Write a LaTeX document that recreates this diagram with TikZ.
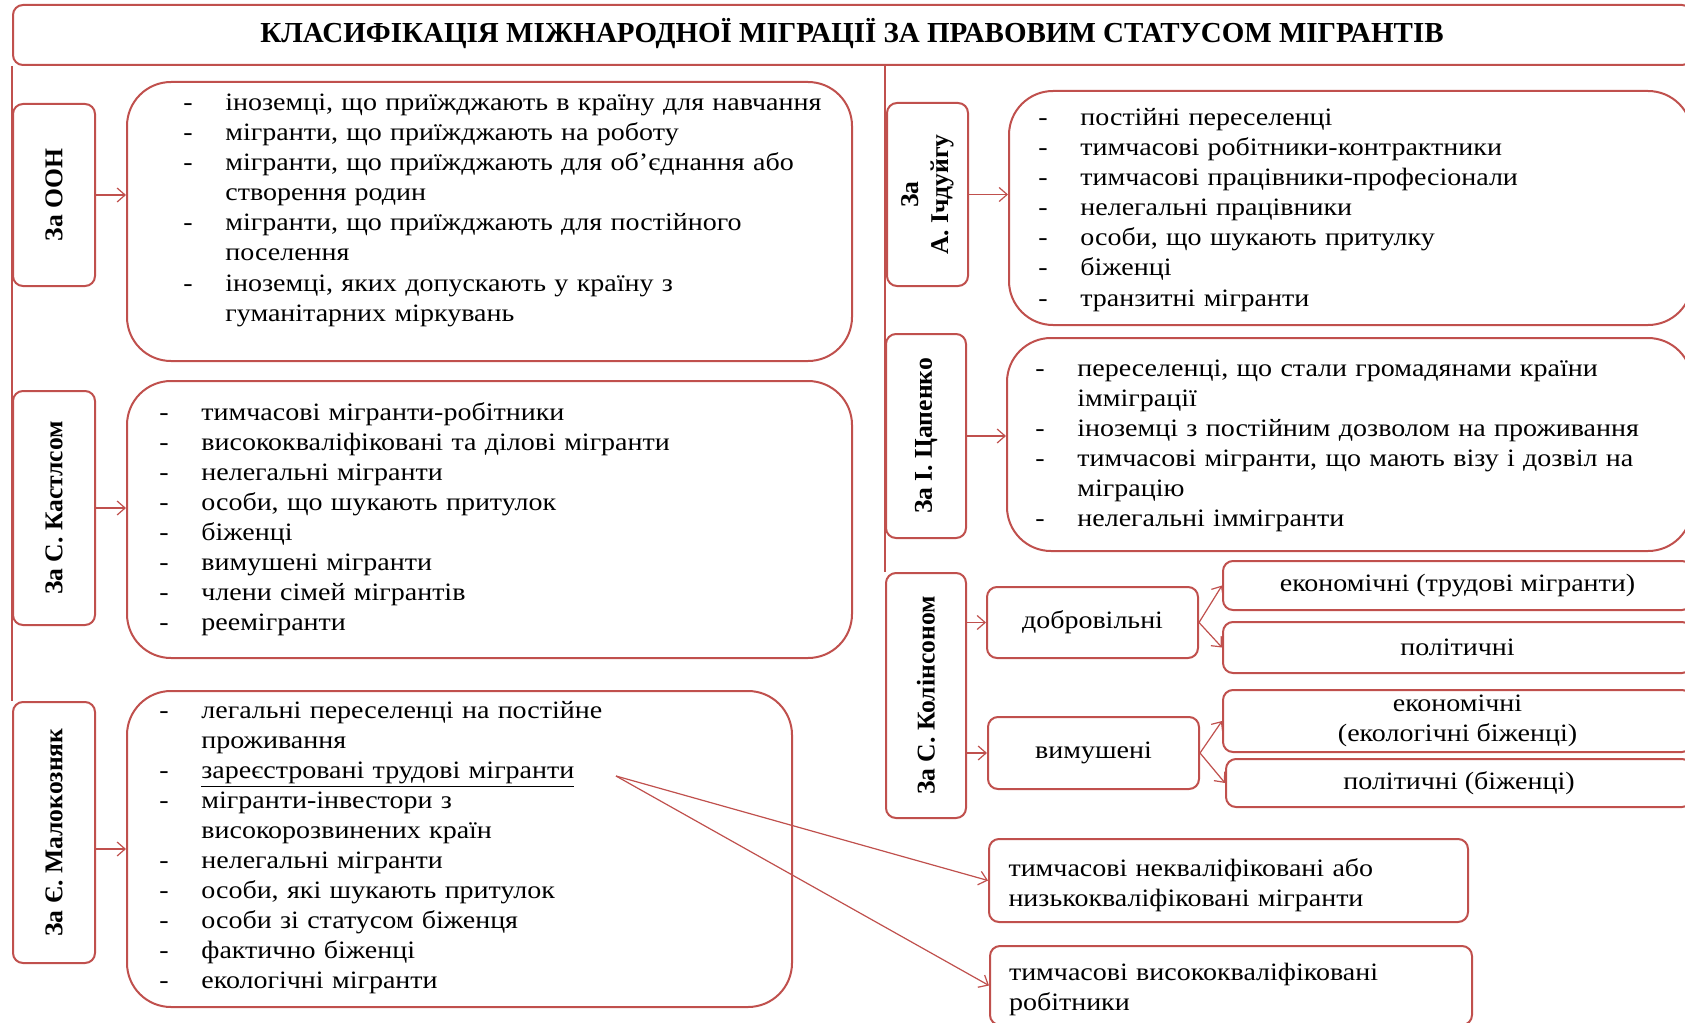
\documentclass[tikz,border=0pt]{standalone}
\usepackage{fontspec}
\setmainfont{Liberation Serif}[FakeStretch=1.12]
\newfontfamily\plainserif{Liberation Serif}
\usepackage{xcolor}
\usetikzlibrary{positioning,fit,arrows.meta}

\definecolor{boxred}{HTML}{C0504D}

\newcommand{\itm}{\makebox[21pt][l]{-}}
\newcommand{\cnt}{\hspace*{21pt}}

\begin{document}
\begin{tikzpicture}[
x=0.5pt, y=-0.5pt,
every node/.style={font=\fontsize{12.5}{15}\selectfont},
frame/.style={draw=boxred, line width=1pt, inner sep=0pt, rounded corners=5pt},
bigbox/.style={frame, rounded corners=22pt},
lbl/.style={rotate=90, inner sep=0pt, align=center, font=\plainserif\fontsize{12.8}{15}\selectfont\bfseries},
lst/.style={anchor=base west, inner sep=0pt, text width=330pt, align=left},
txt/.style={inner sep=0pt, align=center},
link/.style={draw=boxred, line width=0.6pt},
spine/.style={draw=boxred, line width=1pt},
>={Straight Barb[length=4pt,width=7pt]}
]

\fill[white] (0,0) rectangle (1685,1022);
\useasboundingbox (0,0) rectangle (1685,1022);

\node[frame, fit={(13,5) (1692,65)}] (title) {};
\node[txt, font=\plainserif\fontsize{14.5}{16}\selectfont\bfseries] (title-txt) at (852,34)
{КЛАСИФІКАЦІЯ МІЖНАРОДНОЇ МІГРАЦІЇ ЗА ПРАВОВИМ СТАТУСОМ МІГРАНТІВ};

% left column
\node[frame, fit={(13,104) (95,286)}] (oon) {};
\node[lbl] (oon-lbl) at (oon) {За ООН};

\node[bigbox, fit={(127,82) (852,361)}] (oon-box) {};
\node[lst] (oon-txt) at (183,111) {%
\itm іноземці, що приїжджають в країну для навчання\\
\itm мігранти, що приїжджають на роботу\\
\itm мігранти, що приїжджають для об'єднання або\\
\cnt створення родин\\
\itm мігранти, що приїжджають для постійного\\
\cnt поселення\\
\itm іноземці, яких допускають у країну з\\
\cnt гуманітарних міркувань};

\node[frame, fit={(13,391) (95,625)}] (kast) {};
\node[lbl] (kast-lbl) at (kast) {За С. Кастлсом};

\node[bigbox, fit={(127,381) (852,658)}] (kast-box) {};
\node[lst] (kast-txt) at (159,420) {%
\itm тимчасові мігранти-робітники\\
\itm висококваліфіковані та ділові мігранти\\
\itm нелегальні мігранти\\
\itm особи, що шукають притулок\\
\itm біженці\\
\itm вимушені мігранти\\
\itm члени сімей мігрантів\\
\itm реемігранти};

\node[frame, fit={(13,702) (95,963)}] (malok) {};
\node[lbl] (malok-lbl) at (malok) {За Є. Малокозняк};

\node[bigbox, fit={(127,691) (792,1007)}] (malok-box) {};
\node[lst] (malok-txt) at (159,718) {%
\itm легальні переселенці на постійне\\
\cnt проживання\\
\itm \underline{зареєстровані трудові мігранти}\\
\itm мігранти-інвестори з\\
\cnt високорозвинених країн\\
\itm нелегальні мігранти\\
\itm особи, які шукають притулок\\
\itm особи зі статусом біженця\\
\itm фактично біженці\\
\itm екологічні мігранти};

% right column
\node[frame, fit={(887,103) (968,286)}] (ichd) {};
\node[lbl] (ichd-lbl) at (ichd) {За\\А. Ічдуйгу};

\node[bigbox, fit={(1009,91) (1692,325)}] (ichd-box) {};
\node[lst] (ichd-txt) at (1038,126) {%
\itm постійні переселенці\\
\itm тимчасові робітники-контрактники\\
\itm тимчасові працівники-професіонали\\
\itm нелегальні працівники\\
\itm особи, що шукають притулку\\
\itm біженці\\
\itm транзитні мігранти};

\node[frame, fit={(886,334) (966,538)}] (tsap) {};
\node[lbl] (tsap-lbl) at (tsap) {За І. Цапенко};

\node[bigbox, fit={(1007,338) (1692,551)}] (tsap-box) {};
\node[lst] (tsap-txt) at (1035,376) {%
\itm переселенці, що стали громадянами країни\\
\cnt імміграції\\
\itm іноземці з постійним дозволом на проживання\\
\itm тимчасові мігранти, що мають візу і дозвіл на\\
\cnt міграцію\\
\itm нелегальні іммігранти};

\node[frame, fit={(886,573) (966,818)}] (kolin) {};
\node[lbl] (kolin-lbl) at (kolin) {За С. Колінсоном};

\node[frame, fit={(987,587) (1198,658)}] (dobr) {};
\node[txt] (dobr-txt) at (dobr) {добровільні};
\node[frame, fit={(988,717) (1199,789)}] (vymush) {};
\node[txt] (vymush-txt) at (vymush) {вимушені};

\node[frame, fit={(1223,561) (1692,610)}] (dobr-ek) {};
\node[txt] (dobr-ek-txt) at (dobr-ek) {економічні (трудові мігранти)};
\node[frame, fit={(1223,622) (1692,673)}] (dobr-pol) {};
\node[txt] (dobr-pol-txt) at (dobr-pol) {політичні};
\node[frame, fit={(1223,690) (1692,752)}] (vym-ek) {};
\node[txt] (vym-ek-txt) at (vym-ek) {економічні\\(екологічні біженці)};
\node[frame, fit={(1226,759) (1692,807)}] (vym-pol) {};
\node[txt] (vym-pol-txt) at (vym-pol) {політичні (біженці)};

\node[frame, fit={(989,839) (1468,922)}] (temp-low) {};
\node[txt, text width=220pt, align=left, yshift=-2.5pt] (temp-low-txt) at (temp-low)
{тимчасові некваліфіковані або\\низькокваліфіковані мігранти};
\node[frame, fit={(990,946) (1472,1025)}] (temp-high) {};
\node[txt, text width=222pt, align=left, yshift=-2pt] (temp-high-txt) at (temp-high)
{тимчасові висококваліфіковані\\робітники};

% spines
\draw[spine] (title.south west) -- (malok.north west);
\draw[spine] (title.south -| kolin.north west) -- (kolin.north west);

% arrows
\draw[link, ->] (oon.east) -- (oon.east -| oon-box.west);
\draw[link, ->] (kast.east) -- (kast.east -| kast-box.west);
\draw[link, ->] (malok-box.west -| malok.east) -- (malok-box.west);
\draw[link, ->] (ichd.east) -- (ichd.east -| ichd-box.west);
\draw[link, ->] (tsap.east) -- (tsap.east -| tsap-box.west);
\draw[link, ->] (dobr.west -| kolin.east) -- (dobr.west);
\draw[link, ->] (vymush.west -| kolin.east) -- (vymush.west);
\draw[link, ->] (dobr.east) -- (dobr-ek.west);
\draw[link, ->] (dobr.east) -- (dobr-pol.west);
\draw[link, ->] (vymush.east) -- (vym-ek.west);
\draw[link, ->] (vymush.east) -- (vym-pol.west);

\coordinate (reg) at (616,776);
\draw[link, ->] (reg) -- (temp-low.west);
\draw[link, ->] (reg) -- (temp-high.west);

\end{tikzpicture}
\end{document}
